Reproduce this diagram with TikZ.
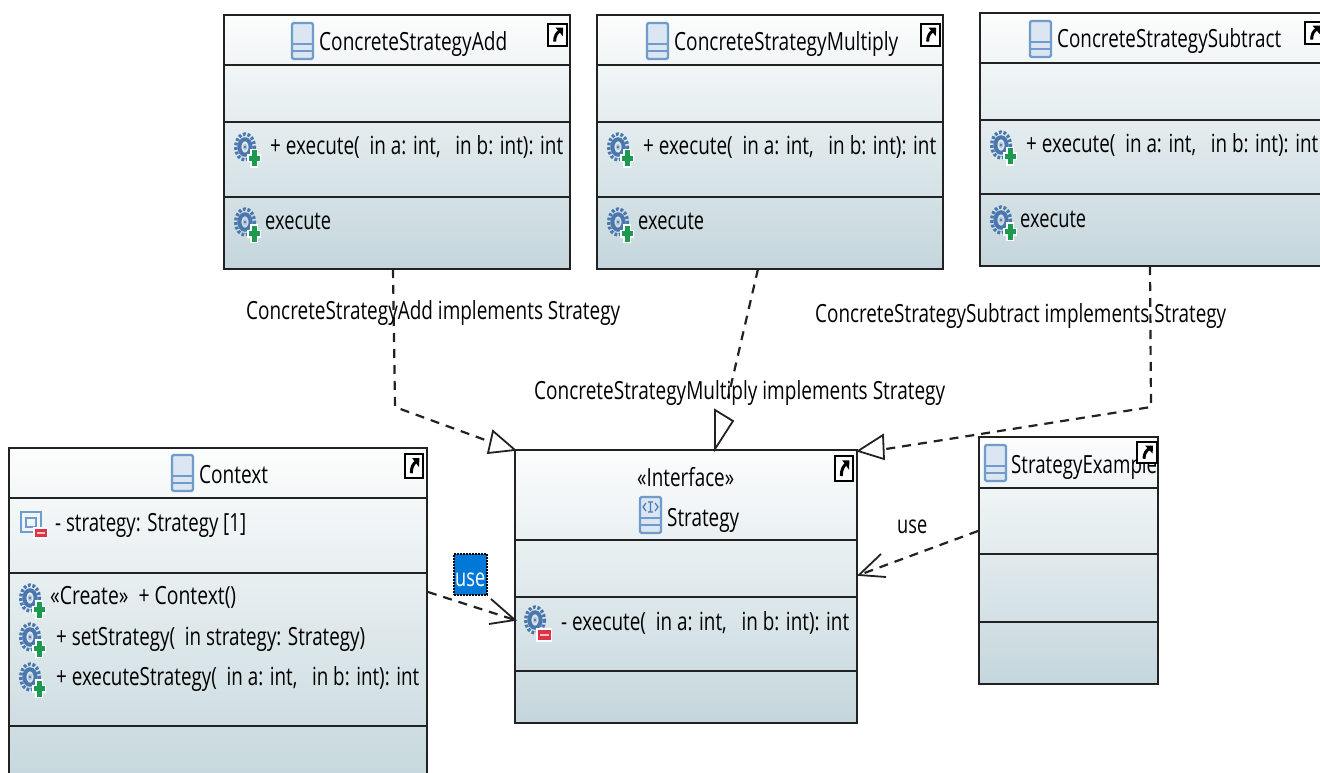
\documentclass[tikz,border=0pt]{standalone}
\usepackage{graphicx}
\usepackage{fontspec}
\setmainfont{Open Sans}
\usetikzlibrary{calc}
\definecolor{boxtop}{HTML}{FCFDFD}
\definecolor{boxbot}{HTML}{C4D6DC}
\definecolor{edge}{HTML}{222222}
\definecolor{iconblue}{HTML}{6F9CCB}
\definecolor{gearblue}{HTML}{4A78AE}
\definecolor{plusgreen}{HTML}{1E9A50}
\definecolor{minusred}{HTML}{DD3344}
\definecolor{selblue}{HTML}{0078D7}
\newcommand{\fitw}[2]{\resizebox{#1pt}{\height}{#2}}
\tikzset{
  classbox/.style={draw=edge,line width=2pt,rectangle,inner sep=0pt,outer sep=0pt,anchor=north west,top color=boxtop,bottom color=boxbot,middle color=boxtop!50!boxbot},
  divider/.style={draw=edge,line width=2pt},
  txt/.style={inner sep=0pt,anchor=base west,text=black,font=\fontsize{25}{25}\selectfont},
  dashline/.style={draw=edge,line width=2.2pt,dash pattern=on 9pt off 7pt},
  headline/.style={draw=edge,line width=1.8pt,line join=miter},
  pics/classicon/.style={code={
    \draw[iconblue,line width=2.4pt,fill=white!75!iconblue,rounded corners=1.5pt] (0,0) rectangle (21,36);
    \draw[iconblue,line width=2.2pt] (0,21)--(21,21) (0,28)--(21,28);
  }},
  pics/ifaceicon/.style={code={
    \draw[iconblue,line width=2.4pt,fill=white!75!iconblue,rounded corners=1.5pt] (0,0) rectangle (21,36);
    \draw[iconblue,line width=2.2pt] (0,21)--(21,21) (0,28)--(21,28);
    \draw[gearblue,line width=1.2pt] (6,6)--(3,10)--(6,14) (15,6)--(18,10)--(15,14) (8,5)--(13,5) (8,15)--(13,15) (10.5,5)--(10.5,15);
  }},
  pics/geargear/.style={code={
    \begin{scope}[yscale=1.38]
      \draw[gearblue,line width=3.4pt,dash pattern=on 2.8pt off 1.8pt] (0,0) circle (9.4);
      \draw[gearblue,line width=4pt] (0,0) circle (5.6);
      \fill[white!55!gearblue] (0,0) circle (2.2);
      \fill[gearblue!70!black] (0,0) circle (0.9);
    \end{scope}
  }},
  pics/gearplus/.style={code={
    \pic at (0,0) {geargear};
    \draw[white,line width=8pt] (9,2)--(9,21) (2,11.5)--(16,11.5);
    \draw[plusgreen,line width=5pt] (9,3.5)--(9,19.5) (3.5,11.5)--(14.5,11.5);
  }},
  pics/gearminus/.style={code={
    \pic at (0,0) {geargear};
    \fill[white] (1,8) rectangle (17,22);
    \fill[minusred] (3,10) rectangle (16,20);
    \fill[white!70!minusred] (5,14) rectangle (14,16);
  }},
  pics/fieldminus/.style={code={
    \draw[iconblue,line width=2.2pt] (0,0) rectangle (20,20);
    \draw[iconblue,line width=2.2pt] (5,6) rectangle (15,15);
    \fill[white] (12,15) rectangle (27,27);
    \fill[minusred] (14,17) rectangle (26,25);
    \fill[white!70!minusred] (16,20) rectangle (24,22);
  }},
  pics/shortcut/.style n args={2}{code={
    \draw[black,line width=2pt,fill=white] (0,0) rectangle (#1,#2);
    \draw[black,line width=3pt] (0.35*#1,0.8*#2) .. controls (0.35*#1,0.55*#2) and (0.45*#1,0.4*#2) .. (0.65*#1,0.3*#2);
    \fill[black] (0.8*#1,0.17*#2) -- (0.4*#1,0.17*#2) -- (0.78*#1,0.55*#2) -- cycle;
  }},
}
\begin{document}
\begin{tikzpicture}[x=1pt,y=-1pt]
\useasboundingbox (0,0) rectangle (1320,773);
\fill[white] (0,0) rectangle (1320,773);
\clip (0,0) rectangle (1320,773);

% boxes
\node[classbox,minimum width=346pt,minimum height=254pt] (add) at (224,15) {};
\node[classbox,minimum width=346pt,minimum height=254pt] (mul) at (597,15) {};
\node[classbox,minimum width=350pt,minimum height=253pt] (sub) at (980,13) {};
\node[classbox,minimum width=418pt,minimum height=345pt] (ctx) at (9,448) {};
\node[classbox,minimum width=342pt,minimum height=273pt] (str) at (515,450) {};

% waypoints
\coordinate (addstart) at (393,269);
\coordinate (addbend) at (395,407);
\coordinate (addhead) at (488,441);
\coordinate (addtip) at (515,450);
\coordinate (mulstart) at (758,269);
\coordinate (mulhead) at (728,398);
\coordinate (multip) at (715,449);
\coordinate (substart) at (1150,266);
\coordinate (subbend) at (1151,407);
\coordinate (subhead) at (886,449);
\coordinate (subtip) at (858,451);
\coordinate (ctxstart) at (428,592);
\coordinate (ctxtip) at (515,620);
\coordinate (exstart) at (978,531);
\coordinate (extip) at (859,575);

% connectors
\draw[dashline] (addstart) -- (addbend) -- (addhead);
\draw[headline] (addtip) -- (488,453) -- (493,431) -- cycle;
\draw[dashline] (mulstart) -- (mulhead);
\draw[headline] (multip) -- (715,410) -- (733,421) -- cycle;
\draw[dashline] (substart) -- (subbend) -- (subhead);
\draw[headline] (subtip) -- (883,435) -- (884,459) -- cycle;
\draw[dashline] (ctxstart) -- (ctxtip);
\draw[headline] (491,599) -- (ctxtip) -- (489,624);
\draw[dashline] (exstart) -- (extip);
\draw[headline] (881,554) -- (extip) -- (886,577);

\node[classbox,minimum width=179pt,minimum height=247pt] (ex) at (979,437) {};

% dividers
\foreach \b/\ya/\yb/\yc in {add/65/122/197,mul/65/122/197,sub/63/120/194,ctx/498/573/726,str/540/597/671,ex/488/554/622}{
  \draw[divider] (\b.west |- 0,\ya) -- (\b.east |- 0,\ya);
  \draw[divider] (\b.west |- 0,\yb) -- (\b.east |- 0,\yb);
  \draw[divider] (\b.west |- 0,\yc) -- (\b.east |- 0,\yc);
}

% icons
\pic at (292,23) {classicon};
\pic at (647,23) {classicon};
\pic at (1030,21) {classicon};
\pic at (172,455) {classicon};
\pic at (640,497) {ifaceicon};
\pic at (985,445) {classicon};
\foreach \x/\y in {245/147,245/222,618/147,618/222,1001/145,1001/220,30/598,30/637,30/677}{
  \pic at (\x,\y) {gearplus};
}
\pic at (535,620) {gearminus};
\pic at (21,512) {fieldminus};

% texts
\node[txt] (t1) at (319,51) {\fitw{188}{ConcreteStrategyAdd}};
\node[txt] (t2) at (270,155) {\fitw{293}{+ execute(\ \ in a: int,\ \ \ in b: int): int}};
\node[txt] (t3) at (265,229) {\fitw{66}{execute}};
\node[txt] (t4) at (674,51) {\fitw{224}{ConcreteStrategyMultiply}};
\node[txt] (t5) at (643,155) {\fitw{293}{+ execute(\ \ in a: int,\ \ \ in b: int): int}};
\node[txt] (t6) at (638,229) {\fitw{66}{execute}};
\node[txt] (t7) at (1057,48) {\fitw{224}{ConcreteStrategySubtract}};
\node[txt] (t8) at (1026,153) {\fitw{292}{+ execute(\ \ in a: int,\ \ \ in b: int): int}};
\node[txt] (t9) at (1020,227) {\fitw{66}{execute}};
\node[txt] (t10) at (199,483) {\fitw{69}{Context}};
\node[txt] (t11) at (55,531) {\fitw{191}{- strategy: Strategy [1]}};
\node[txt] (t12) at (50,604) {\fitw{186}{«Create»\ \ + Context()}};
\node[txt] (t13) at (56,645) {\fitw{309}{+ setStrategy(\ \ in strategy: Strategy)}};
\node[txt] (t14) at (56,685) {\fitw{363}{+ executeStrategy(\ \ in a: int,\ \ \ in b: int): int}};
\node[txt] (t15) at (637,486) {\fitw{97}{«Interface»}};
\node[txt] (t16) at (667,526) {\fitw{72}{Strategy}};
\node[txt] (t17) at (561,630) {\fitw{288}{- execute(\ \ in a: int,\ \ \ in b: int): int}};
\node[txt] (t18) at (1011,473) {\fitw{146}{StrategyExample}};
\node[txt] (l1) at (246,319) {\fitw{374}{ConcreteStrategyAdd implements Strategy}};
\node[txt] (l2) at (534,399) {\fitw{411}{ConcreteStrategyMultiply implements Strategy}};
\node[txt] (l3) at (815,322) {\fitw{411}{ConcreteStrategySubtract implements Strategy}};
\node[txt] (l4) at (897,533) {\fitw{30}{use}};

% selected label
\node[rectangle,draw=black,densely dotted,line width=2pt,fill=selblue,inner sep=0pt,outer sep=0pt,anchor=north west,minimum width=33pt,minimum height=41pt] (sel) at (454,554) {};
\node[txt,text=white] (l5) at (455,586) {\fitw{30}{use}};

% shortcut markers
\pic at (548,24) {shortcut={19}{22}};
\pic at (921,24) {shortcut={19}{22}};
\pic at (1305,22) {shortcut={19}{22}};
\pic at (405,454) {shortcut={18}{24}};
\pic at (835,456) {shortcut={18}{25}};
\pic at (1137,442) {shortcut={20}{21}};
\end{tikzpicture}
\end{document}
